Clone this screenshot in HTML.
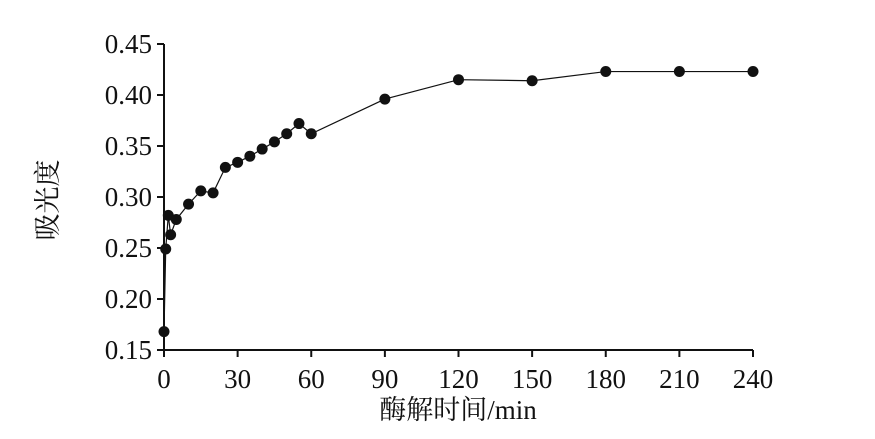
<!DOCTYPE html>
<html><head><meta charset="utf-8"><style>
body{margin:0;background:#fff}
svg text{font-family:"Liberation Serif","Noto Serif CJK SC",serif;fill:#111}
</style></head><body>
<svg id="c" width="875" height="434"></svg>
<script>
const times=[0,0.7,1.75,2.7,5,10,15,20,25,30,35,40,45,50,55,60,90,120,150,180,210,240];
const values=[0.168,0.249,0.282,0.263,0.278,0.293,0.306,0.304,0.329,0.334,0.340,0.347,0.354,0.362,0.372,0.362,0.396,0.415,0.414,0.423,0.423,0.423];
const xTicks=[0,30,60,90,120,150,180,210,240];
const yTicks=[0.15,0.20,0.25,0.30,0.35,0.40,0.45];
const NS="http://www.w3.org/2000/svg",svg=document.getElementById('c');
const X0=164,X1=753,Y0=350,Y1=44;
const sx=v=>X0+(v-0)/(240)*(X1-X0);
const sy=v=>Y0-(v-0.15)/(0.30)*(Y0-Y1);
function mk(t,a,p){const e=document.createElementNS(NS,t);for(const k in a)e.setAttribute(k,a[k]);(p||svg).appendChild(e);return e;}
const ax=mk('g',{});


mk('line',{x1:X0,y1:Y1,x2:X0,y2:Y0,stroke:'#111','stroke-width':2},ax);
mk('line',{x1:X0,y1:Y0,x2:X1,y2:Y0,stroke:'#111','stroke-width':2},ax);
yTicks.forEach(v=>{const y=sy(v);
mk('line',{x1:X0-7,y1:y,x2:X0,y2:y,stroke:'#111','stroke-width':2},ax);
const t=mk('text',{x:X0-12,y:y+9,'text-anchor':'end','font-size':27},ax);t.textContent=v.toFixed(2);

});
xTicks.forEach(v=>{const x=sx(v);
mk('line',{x1:x,y1:Y0,x2:x,y2:Y0+7,stroke:'#111','stroke-width':2},ax);
const t=mk('text',{x:x,y:Y0+38,'text-anchor':'middle','font-size':27},ax);t.textContent=v;

});
const line=mk('polyline',{points:times.map((t,i)=>sx(t)+','+sy(values[i])).join(' '),fill:'none',stroke:'#111','stroke-width':1.2});


times.forEach((t,i)=>{const c=mk('circle',{cx:sx(t),cy:sy(values[i]),r:5.5,fill:'#111'});

});
const yt=mk('text',{x:0,y:0,'font-size':27,'text-anchor':'middle',transform:'translate(57,200) rotate(-90)'});yt.textContent='吸光度';


const xt=mk('text',{x:458,y:419,'font-size':27,'text-anchor':'middle'});xt.textContent='酶解时间/min';


</script>
</body></html>
